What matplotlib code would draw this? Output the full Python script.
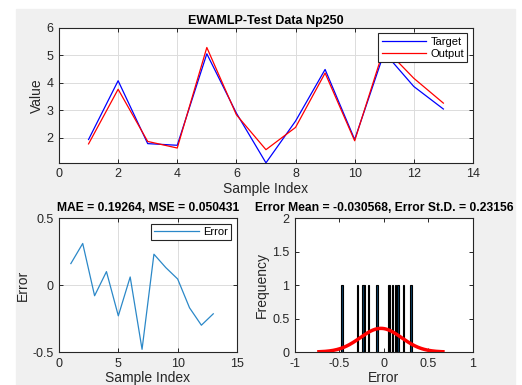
import numpy as np
import matplotlib
matplotlib.use('Agg')
import matplotlib.pyplot as plt
from matplotlib.patches import Rectangle

plt.rcParams['font.family'] = ['Liberation Sans', 'DejaVu Sans']

# values
sample_idx = np.arange(1, 14)
target = [1.93, 4.07, 1.78, 1.72, 5.05, 2.89, 1.08, 2.60, 4.48, 1.93, 5.10, 3.86, 3.04]
output = [1.77, 3.76, 1.86, 1.62, 5.28, 2.83, 1.56, 2.37, 4.35, 1.885, 5.27, 4.16, 3.255]
title_top = 'EWAMLP-Test Data Np250'
title_err = 'MAE = 0.19264, MSE = 0.050431'
title_hist = 'Error Mean = -0.030568, Error St.D. = 0.23156'

err = np.array(target) - np.array(output)

EDGE = '#262626'
GRID = '#dcdcdc'


def matlab_axes(ax, grid=True):
    for s in ax.spines.values():
        s.set_color(EDGE)
        s.set_linewidth(0.8)
    ax.tick_params(direction='in', length=3, colors=EDGE, labelsize=9,
                   top=True, right=True, width=0.7, pad=4)
    if grid:
        ax.grid(True, color=GRID, lw=0.7)
        ax.set_axisbelow(True)
    ax.set_facecolor('white')


fig = plt.figure(figsize=(5.22, 3.85), dpi=100)
fig.patch.set_facecolor('white')
fig.add_artist(Rectangle((16 / 522, 0), (515 - 16) / 522, 1 - 9 / 385,
                         transform=fig.transFigure, color='#f0f0f0', zorder=-10))

# top: target vs output
ax1 = fig.add_axes([0.113, 0.577, 0.793, 0.351])
matlab_axes(ax1)
ax1.plot(sample_idx, target, color='#0000ff', lw=0.9, label='Target')
ax1.plot(sample_idx, output, color='#ff0000', lw=0.9, label='Output')
ax1.set_xlim(0, 14)
ax1.set_ylim(1.08, 6)
ax1.set_xticks(range(0, 15, 2))
ax1.set_yticks([2, 3, 4, 5, 6])
ax1.set_title(title_top, fontsize=9, fontweight='bold', pad=3)
ax1.set_xlabel('Sample Index', fontsize=10, color=EDGE, labelpad=1)
ax1.set_ylabel('Value', fontsize=10, color=EDGE, labelpad=2)
leg = ax1.legend(loc='upper right', fontsize=8, fancybox=False, framealpha=1,
                 edgecolor=EDGE, handlelength=4.0, borderpad=0.3,
                 labelspacing=0.2, handletextpad=0.4, borderaxespad=0.5)
leg.get_frame().set_linewidth(0.8)

# bottom left: error
ax2 = fig.add_axes([0.113, 0.0857, 0.341, 0.348])
matlab_axes(ax2)
ax2.plot(sample_idx, err, color='#2b88c8', lw=0.9, label='Error')
ax2.set_xlim(0, 15)
ax2.set_ylim(-0.5, 0.5)
ax2.set_xticks([0, 5, 10, 15])
ax2.set_yticks([-0.5, 0, 0.5])
ax2.set_yticklabels(['-0.5', '0', '0.5'])
ax2.set_title(title_err, fontsize=8.7, fontweight='bold', pad=5)
ax2.set_xlabel('Sample Index', fontsize=10, color=EDGE, labelpad=1)
ax2.set_ylabel('Error', fontsize=10, color=EDGE, labelpad=2)
leg2 = ax2.legend(loc='upper right', fontsize=8, fancybox=False, framealpha=1,
                  edgecolor=EDGE, handlelength=4.0, borderpad=0.3,
                  handletextpad=0.4, borderaxespad=0.5)
leg2.get_frame().set_linewidth(0.8)

# bottom right: histogram + normal fit
ax3 = fig.add_axes([0.565, 0.0857, 0.341, 0.348])
matlab_axes(ax3, grid=False)
counts, edges = np.histogram(err, bins=50)
bw = edges[1] - edges[0]
centers = (edges[:-1] + edges[1:]) / 2
keep = counts > 0
ax3.bar(centers[keep], counts[keep], width=bw, color='#0a3d62',
        edgecolor='black', lw=0.8)
mu, sd = err.mean(), err.std(ddof=1)
xs = np.linspace(mu - 3 * sd, mu + 3 * sd, 200)
pdf = np.exp(-0.5 * ((xs - mu) / sd) ** 2) / (sd * np.sqrt(2 * np.pi))
ax3.plot(xs, pdf * len(err) * bw, color='#ff0000', lw=2.5)
ax3.set_xlim(-1, 1)
ax3.set_ylim(0, 2)
ax3.set_xticks([-1, -0.5, 0, 0.5, 1])
ax3.set_xticklabels(['-1', '-0.5', '0', '0.5', '1'])
ax3.set_yticks([0, 0.5, 1, 1.5, 2])
ax3.set_yticklabels(['0', '0.5', '1', '1.5', '2'])
ax3.set_title(title_hist, fontsize=8.7, fontweight='bold', pad=5)
ax3.set_xlabel('Error', fontsize=10, color=EDGE, labelpad=1)
ax3.set_ylabel('Frequency', fontsize=10, color=EDGE, labelpad=2)

fig.savefig('out.png', dpi=100)
